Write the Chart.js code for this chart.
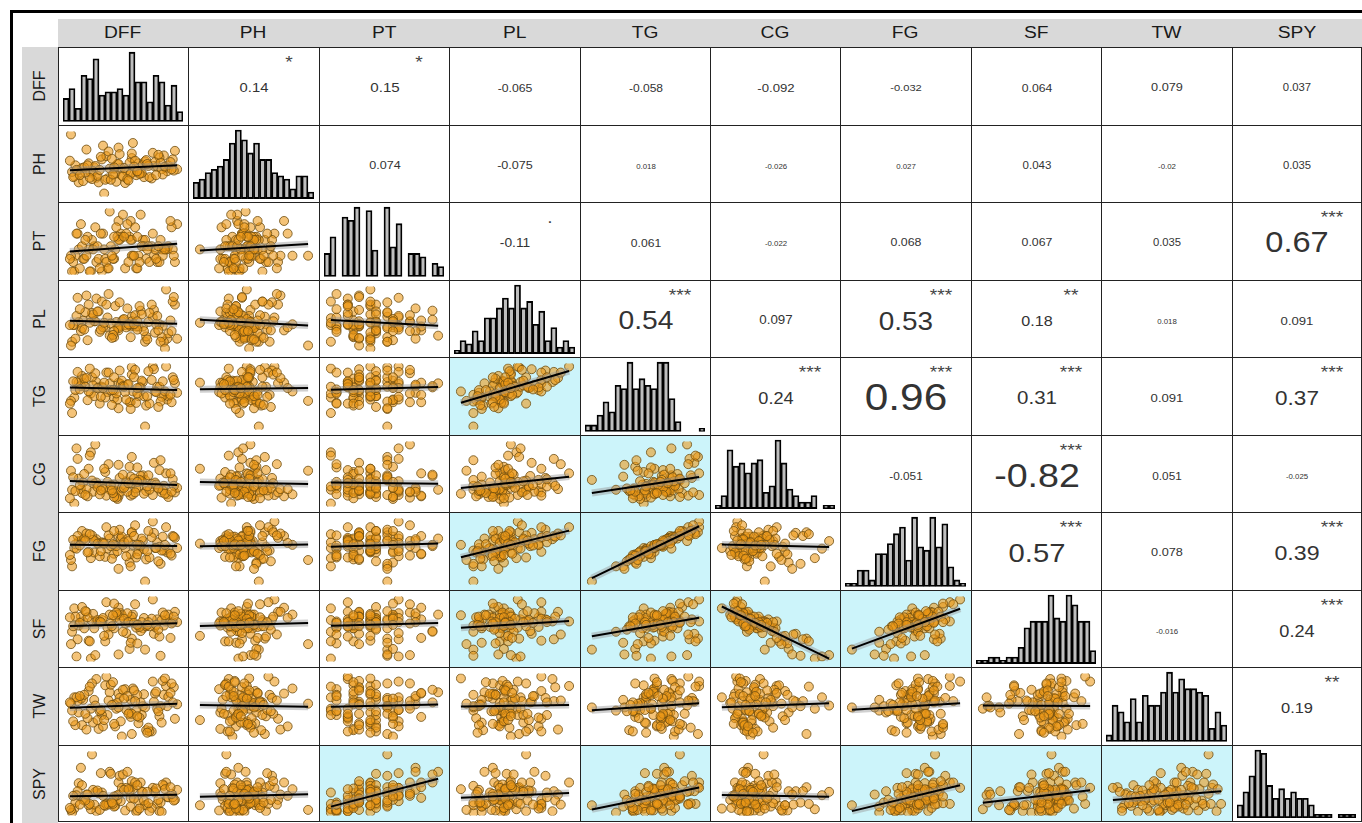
<!DOCTYPE html>
<html><head><meta charset="utf-8">
<script src="https://cdn.jsdelivr.net/npm/chart.js@4.4.0/dist/chart.umd.min.js"></script>
<style>
html,body{margin:0;padding:0;background:#fff;width:1362px;height:823px;overflow:hidden;position:relative;font-family:'Liberation Sans',Arial,sans-serif;}
#frame{position:absolute;left:10px;top:10px;width:1400px;height:900px;border:3px solid #000;box-sizing:border-box;}
.strip{position:absolute;background:#d9d9d9;}
.hlab{position:absolute;top:19px;height:28px;display:flex;align-items:center;justify-content:center;font-size:16px;color:#1a1a1a;}
.hlab span{display:inline-block;transform:scaleX(1.2);}
.vlab{position:absolute;left:22px;width:36px;font-size:16px;color:#1a1a1a;display:flex;align-items:center;justify-content:center;}
.vlab span{display:inline-block;transform:rotate(-90deg);white-space:nowrap;}
.cell{position:absolute;box-sizing:border-box;border-left:1px solid #222;border-top:1px solid #222;overflow:hidden;background:#fff;}
.cell canvas{position:absolute;left:0;top:0;}
.cor{position:absolute;left:50%;top:52%;transform:translate(-50%,-50%) scaleX(1.12);color:#333;white-space:nowrap;line-height:1;}
.sig{position:absolute;left:77%;top:20%;transform:translate(-50%,-50%) scaleX(1.2);color:#444;font-size:16px;line-height:1;white-space:nowrap;}
</style></head><body>
<div id="frame"></div>
<div class="strip" style="left:58px;top:19px;width:1304px;height:28px"></div>
<div class="strip" style="left:22px;top:47px;width:36px;height:776px"></div>
<div id="grid"></div>
<script>
// ---------- variables ----------
const VARS = ['DFF','PH','PT','PL','TG','CG','FG','SF','TW','SPY'];

// ---------- observations (estimated positions within each variable's range) ----------
const DFF = [26,6,89,90,10,21,58,24,46,64,77,43,14,57,68,28,4,78,87,36,48,19,49,70,12, 59,97,42,81,34,13,66,91,22,71,9,52,56,38,83,47,85,62,25,76,15,45,86,31,53, 69,35,99,23,57,79,17,44,63,18,95,39,7,8,58,74,50,84,27,61,29,96,32,67,3, 54,80,5,46,20,30,88,65,51,73,2,55,94,37,72,16,60,82,33,11,42,93,41,63,40];
const PH  = [29,31,44,39,22,37,59,45,75,51,67,35,24,36,49,22,38,47,63,28,44,51,32,54,37, 82,70,43,46,26,44,36,48,27,56,40,21,52,43,60,65,42,33,47,28,45,50,34,57,40, 30,62,42,39,35,53,72,23,38,48,57,26,48,41,66,30,31,52,32,55,41,40,78,36,95, 27,33,30,50,29,61,46,35,44,47,55,25,42,69,50,37,46,64,5,33,45,53,34,39,58];
const PT  = [17,2,37,37,37,2,52,42,82,27,62,37,22,82,52,22,2,27,37,7,62,37,57,52,77, 27,17,22,17,22,42,92,42,52,22,62,7,57,97,17,52,37,7,72,42,22,57,27,2,62, 42,17,77,37,52,37,27,72,7,57,37,42,27,62,27,17,92,52,42,72,7,27,62,42,27, 77,22,17,52,2,62,37,17,57,42,22,17,72,7,37,52,27,42,37,7,57,82,22,57,27];
const PL  = [80,45,92,27,49,54,56,50,38,43, 55,70,51,43,43,63,23,65,23,55, 44,72,50,23,37,46,72,29,57,42, 41,64,34,61,30,81,45,45,31,46, 75,29,43,50,72,39,42,44,76,42, 37,72,27,59,29,35,84,49,39,25, 76,47,27,57,50,61,52,23,63,58, 36,82,42,59,18,67,46,45,41,48, 39,14,70,53,49,45,46,37,86,26, 62,46,38,48,66,37,51,32,50,28];
const TG  = [70,47,93,44,69,53,92,49,69,49, 93,58,69,40,70,62,24,89,51,55, 67,56,72,4,64,56,68,46,63,47, 79,62,49,77,35,85,55,40,68,63, 87,48,39,83,73,75,44,71,63,44, 49,84,54,65,30,56,76,53,53,43, 77,58,58,70,81,38,64,41,61,88, 38,73,61,72,42,66,55,71,31,90, 48,56,62,63,86,38,67,40,84,49, 63,77,33,69,59,77,51,58,61,36];
const CG  = [34,2,48,16,40,80,73,32,13,27, 15,21,34,14,45,30,23,64,29,35, 20,55,26,38,24,16,19,31,27,50, 18,44,12,37,21,70,29,58,23,53, 41,19,25,92,32,47,9,22,28,36, 17,14,26,20,43,34,24,11,57,13, 39,30,21,86,33,23,46,68,27,19, 16,29,24,36,52,20,31,42,61,75, 22,17,38,26,45,10,33,20,62,28, 15,40,25,55,30,12,48,18,35,22];
const FG  = [69,55,88,48,66,39,80,48,74,50, 97,60,68,45,66,62,26,79,51,54, 70,49,73,2,66,60,71,46,64,41, 82,58,54,75,37,74,55,32,70,57, 84,51,40,66,72,70,50,73,64,42, 53,88,55,68,26,55,78,58,45,48, 74,58,61,54,80,40,60,30,62,91, 42,73,63,70,36,69,55,68,22,77, 50,60,60,64,82,44,66,43,75,50, 67,74,34,62,59,82,46,61,60,38];
const SF  = [71,90,71,74,65,17,46,61,91,66, 103,77,71,74,61,71,56,53,65,62, 83,43,80,30,78,81,85,61,74,42, 92,57,81,72,64,45,68,31,81,49, 74,73,62,22,75,61,81,84,73,54, 76,99,70,82,40,63,85,84,39,77, 70,68,78,20,78,64,56,21,73,96, 71,78,76,70,38,83,66,64,23,42, 70,80,63,75,70,77,70,68,52,66, 86,69,59,50,69,97,47,80,66,64];
const TW  = [95,66,84,52,42,48,8,62,72,25,91,20,62,35,52,16,45,59,70,38,28,76,4,50,64, 80,32,55,48,85,22,58,67,88,14,60,79,42,74,36,65,26,45,53,12,70,57,92,38,46, 71,99,55,26,62,72,15,48,70,33,58,86,22,66,40,12,78,52,30,60,44,82,20,38,56, 68,75,28,50,83,46,96,34,64,18,58,40,88,61,10,40,77,44,30,68,24,73,90,36,54];
const SPY = [2,6,45,23,44,5,38,12,45,18,37,10,19,22,31,29,0,32,40,15,17,11,37,11,67, 35,19,9,13,10,41,45,23,87,11,32,3,32,61,2,55,1,1,31,7,20,19,42,30,37, 18,13,34,34,9,30,27,25,3,27,23,58,15,26,47,2,57,15,33,45,4,18,25,31,4, 61,36,25,27,13,59,35,6,34,14,7,35,28,12,31,18,21,19,11,12,24,38,13,41,15];

// ---------- histogram bin counts (diagonal) ----------
const binsDFF = [7,10,4,14,13,19,8,9,9,10,8,21,12,12,6,14,12,5,11,3];
const binsPH  = [5,6,8,9,10,12,17,21,18,14,17,12,12,8,7,6,3,7,7,2];
const binsPT  = [7,12,0,18,17,21,0,20,8,0,21,9,16,0,7,7,6,0,4,3];
const binsPL  = [1,4,3,7,4,11,11,14,17,14,21,14,16,9,13,4,8,2,4,2];
const binsTG  = [2,2,5,9,6,14,13,21,13,16,14,13,21,21,10,3,0,0,0,1];
const binsCG  = [1,4,18,13,14,11,14,15,5,7,21,14,6,4,2,2,4,0,1,1];
const binsFG  = [1,1,5,5,2,10,10,13,16,18,8,21,12,11,21,12,19,6,2,1];
const binsSF  = [1,1,2,2,1,2,2,5,11,13,13,13,21,14,13,21,18,13,13,4];
const binsTW  = [2,11,9,6,13,6,14,11,11,15,21,15,19,16,16,15,14,4,9,5];
const binsSPY = [4,8,13,21,20,10,6,9,6,8,6,6,4,1,1,1,0,1,1,1];

// ---------- correlations (upper triangle, row var vs following vars) ----------
const corrDFF = [0.14,0.15,-0.065,-0.058,-0.092,-0.032,0.064,0.079,0.037];
const corrPH  = [0.074,-0.075,0.018,-0.026,0.027,0.043,-0.02,0.035];
const corrPT  = [-0.11,0.061,-0.022,0.068,0.067,0.035,0.67];
const corrPL  = [0.54,0.097,0.53,0.18,0.018,0.091];
const corrTG  = [0.24,0.96,0.31,0.091,0.37];
const corrCG  = [-0.051,-0.82,0.051,-0.025];
const corrFG  = [0.57,0.078,0.39];
const corrSF  = [-0.016,0.24];
const corrTW  = [0.19];
const sigDFF = ['*','*','','','','','','',''];
const sigPH  = ['','','','','','','',''];
const sigPT  = ['.','','','','','','***'];
const sigPL  = ['***','','***','**','',''];
const sigTG  = ['***','***','***','','***'];
const sigCG  = ['','***','',''];
const sigFG  = ['***','','***'];
const sigSF  = ['','***'];
const sigTW  = ['**'];

// ---------- assembled tables ----------
const OBS = {DFF,PH,PT,PL,TG,CG,FG,SF,TW,SPY};
const BINS = {DFF:binsDFF,PH:binsPH,PT:binsPT,PL:binsPL,TG:binsTG,CG:binsCG,FG:binsFG,SF:binsSF,TW:binsTW,SPY:binsSPY};
const CORR = [corrDFF,corrPH,corrPT,corrPL,corrTG,corrCG,corrFG,corrSF,corrTW,[]];
const SIG  = [sigDFF,sigPH,sigPT,sigPL,sigTG,sigCG,sigFG,sigSF,sigTW,[]];

// ---------- layout ----------
const X0=58, Y0=47, CW=130.4, RH=77.5, N=VARS.length;
const colEdge = j => Math.round(X0 + j*CW);
const rowEdge = i => Math.round(Y0 + i*RH);
const BLUE = 'rgb(204,244,250)';
const PT_FILL = 'rgba(236,152,22,0.58)';
const PT_EDGE = 'rgba(110,78,16,0.8)';

const grid = document.getElementById('grid');
VARS.forEach((v,k)=>{
  const h=document.createElement('div'); h.className='hlab';
  h.style.left=colEdge(k)+'px'; h.style.width=(colEdge(k+1)-colEdge(k))+'px';
  h.innerHTML='<span>'+v+'</span>'; grid.appendChild(h);
  const s=document.createElement('div'); s.className='vlab';
  s.style.top=rowEdge(k)+'px'; s.style.height=(rowEdge(k+1)-rowEdge(k))+'px';
  s.innerHTML='<span>'+v+'</span>'; grid.appendChild(s);
});

function rng(a){const mn=Math.min(...a), mx=Math.max(...a), p=(mx-mn)*0.05; return [mn-p, mx+p];}
function fitLine(xs, ys){
  const n=xs.length; let sx=0, sy=0;
  for(let k=0;k<n;k++){sx+=xs[k]; sy+=ys[k];}
  const mx=sx/n, my=sy/n; let sxy=0, sxx=0;
  for(let k=0;k<n;k++){sxy+=(xs[k]-mx)*(ys[k]-my); sxx+=(xs[k]-mx)*(xs[k]-mx);}
  const b=sxy/sxx, a=my-b*mx, x0=Math.min(...xs), x1=Math.max(...xs);
  return [{x:x0,y:a+b*x0},{x:x1,y:a+b*x1}];
}
const baseOpts = () => ({responsive:false, maintainAspectRatio:false, animation:false, devicePixelRatio:1, events:[],
  plugins:{legend:{display:false}, tooltip:{enabled:false}}});

for(let i=0;i<N;i++){
  for(let j=0;j<N;j++){
    const L=colEdge(j), T=rowEdge(i), W=colEdge(j+1)-L, H=rowEdge(i+1)-T;
    const cell=document.createElement('div'); cell.className='cell';
    cell.style.left=L+'px'; cell.style.top=T+'px'; cell.style.width=W+'px'; cell.style.height=H+'px';
    if(j===N-1) cell.style.borderRight='1px solid #222';
    if(i===N-1) cell.style.borderBottom='1px solid #222';
    grid.appendChild(cell);
    const cw=W-1-(j===N-1?1:0), ch=H-1-(i===N-1?1:0);
    if(i<j){
      const r=CORR[i][j-i-1], s=SIG[i][j-i-1], a=Math.abs(r);
      const t=document.createElement('div'); t.className='cor';
      t.style.fontSize=(a<0.03?7:9+30*a)+'px'; t.textContent=String(r); cell.appendChild(t);
      if(s){const q=document.createElement('div'); q.className='sig'; q.textContent=s; cell.appendChild(q);}
      continue;
    }
    const c=document.createElement('canvas'); c.width=cw; c.height=ch; c.style.width=cw+'px'; c.style.height=ch+'px';
    cell.appendChild(c);
    if(i===j){
      const b=BINS[VARS[i]], m=Math.max(...b);
      const o=baseOpts();
      o.layout={padding:{left:4,right:5,top:0,bottom:0}};
      o.scales={x:{display:false}, y:{display:false, min:-0.05*m, max:1.06*m}};
      new Chart(c,{type:'bar', data:{labels:b.map((_,k)=>k+1), datasets:[{data:b, backgroundColor:'#bebebe', borderColor:'#000',
        borderWidth:1.8, borderSkipped:false, categoryPercentage:1, barPercentage:1}]}, options:o});
    } else {
      const xs=OBS[VARS[j]], ys=OBS[VARS[i]];
      const s=SIG[j][i-j-1];
      if(s==='**'||s==='***') cell.style.background=BLUE;
      const [xmn,xmx]=rng(xs), [ymn,ymx]=rng(ys);
      const line=fitLine(xs,ys);
      const o=baseOpts();
      o.layout={padding:0};
      o.scales={x:{type:'linear',display:false,min:xmn,max:xmx}, y:{type:'linear',display:false,min:ymn,max:ymx}};
      new Chart(c,{type:'scatter', data:{datasets:[
        {data:xs.map((x,k)=>({x, y:ys[k]})), pointRadius:4.5, pointBackgroundColor:PT_FILL, pointBorderColor:PT_EDGE, pointBorderWidth:1, order:3},
        {data:line, showLine:true, borderColor:'rgba(150,150,150,0.45)', borderWidth:7, pointRadius:0, order:2},
        {data:line, showLine:true, borderColor:'#000', borderWidth:2, pointRadius:0, order:1}
      ]}, options:o});
    }
  }
}
</script></body></html>
